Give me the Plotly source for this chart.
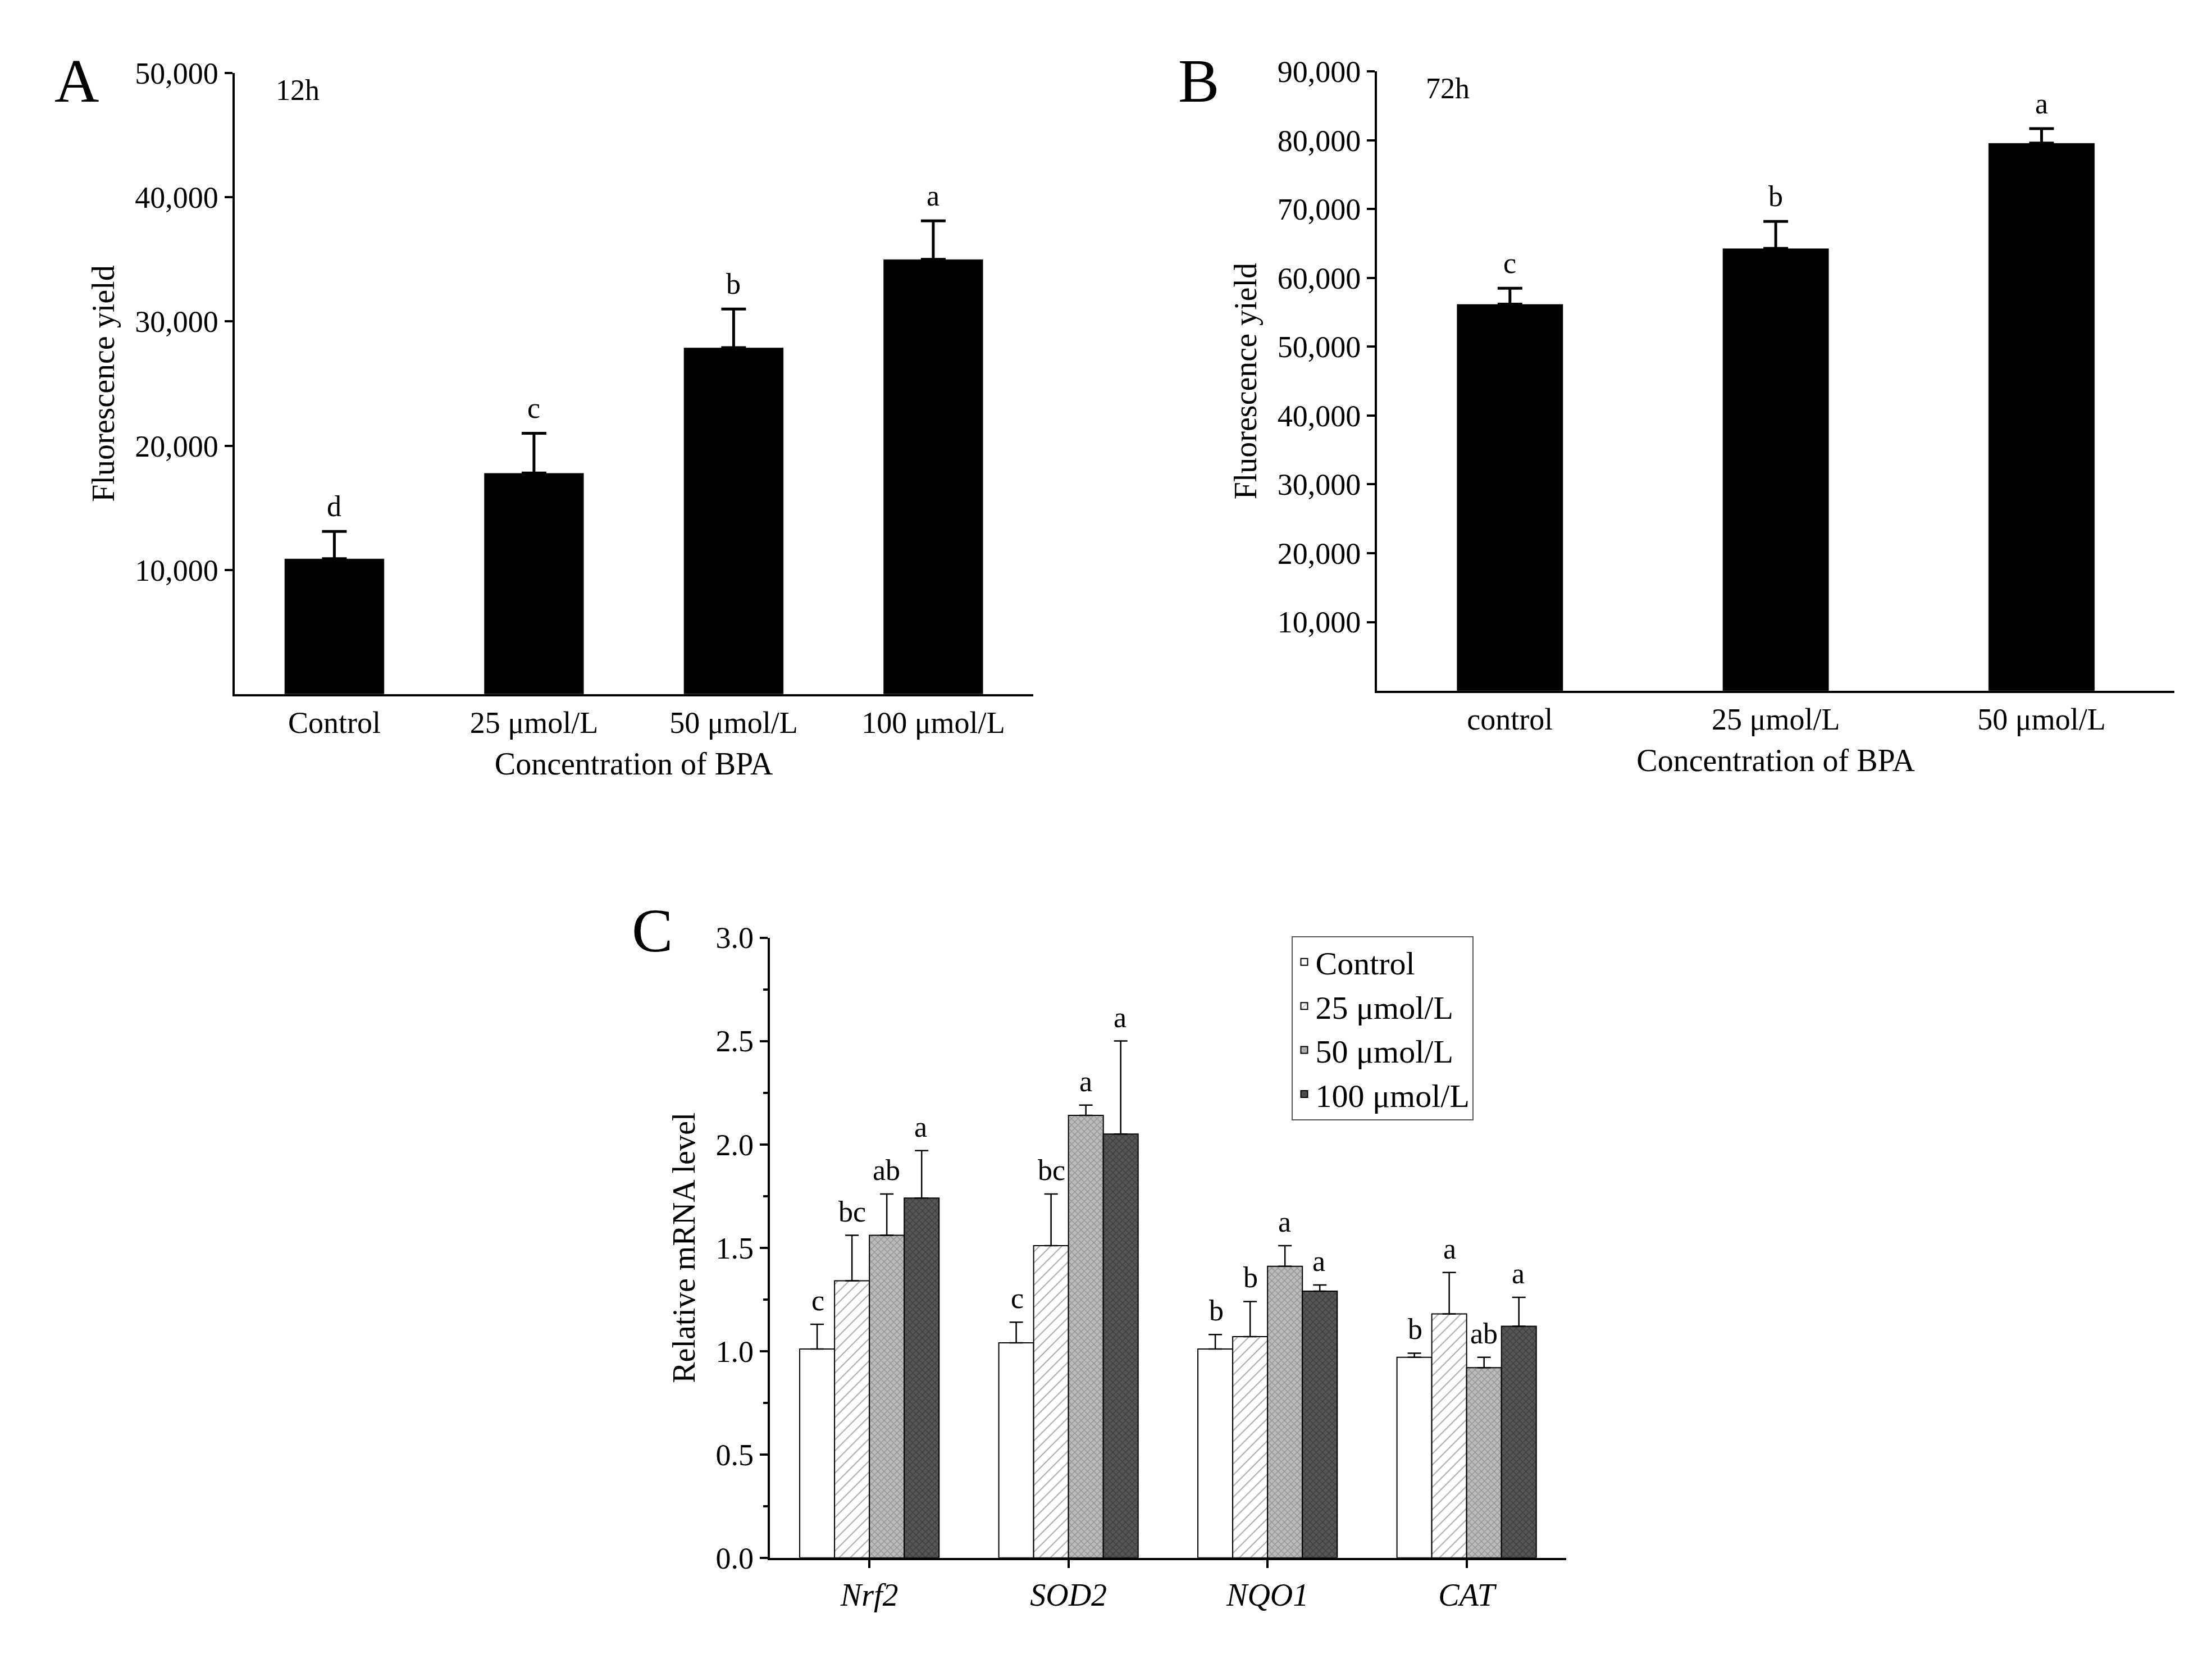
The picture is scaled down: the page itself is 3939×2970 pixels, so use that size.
import plotly.graph_objects as go

catA = ["Control", "25 μmol/L", "50 μmol/L", "100 μmol/L"]
valA = [10900, 17800, 27900, 35000]
errA = [2200, 3200, 3100, 3100]
letA = ["d", "c", "b", "a"]

catB = ["control", "25 μmol/L", "50 μmol/L"]
valB = [56200, 64300, 79600]
errB = [2300, 3900, 2100]
letB = ["c", "b", "a"]

genes = ["<i>Nrf2</i>", "<i>SOD2</i>", "<i>NQO1</i>", "<i>CAT</i>"]
series = ["Control", "25 μmol/L", "50 μmol/L", "100 μmol/L"]
valC = [[1.01, 1.04, 1.01, 0.97],
        [1.34, 1.51, 1.07, 1.18],
        [1.56, 2.14, 1.41, 0.92],
        [1.74, 2.05, 1.29, 1.12]]
errC = [[0.12, 0.10, 0.07, 0.02],
        [0.22, 0.25, 0.17, 0.20],
        [0.20, 0.05, 0.10, 0.05],
        [0.23, 0.45, 0.03, 0.14]]
letC = [["c", "c", "b", "b"],
        ["bc", "bc", "b", "a"],
        ["ab", "a", "a", "ab"],
        ["a", "a", "a", "a"]]

F = "Liberation Serif"
fig = go.Figure()
fig.add_trace(go.Bar(x=catA, y=valA, width=0.5, marker=dict(color="black"),
                     error_y=dict(type="data", array=errA, arrayminus=[0]*4, color="black", thickness=5, width=22),
                     xaxis="x", yaxis="y", showlegend=False))
fig.add_trace(go.Bar(x=catB, y=valB, width=0.4, marker=dict(color="black"),
                     error_y=dict(type="data", array=errB, arrayminus=[0]*3, color="black", thickness=5, width=22),
                     xaxis="x2", yaxis="y2", showlegend=False))
pats = [dict(shape="", bgcolor="white"),
        dict(shape="/", bgcolor="white", fgcolor="#555", size=14, solidity=0.15),
        dict(shape="x", bgcolor="#bbbbbb", fgcolor="#666", size=8, solidity=0.3),
        dict(shape="x", bgcolor="#555555", fgcolor="#222", size=8, solidity=0.3)]
for i, s in enumerate(series):
    fig.add_trace(go.Bar(x=genes, y=valC[i], name=s,
                         marker=dict(color="white", line=dict(color="black", width=2), pattern=pats[i]),
                         error_y=dict(type="data", array=errC[i], arrayminus=[0]*4, color="black", thickness=2.5, width=12),
                         xaxis="x3", yaxis="y3", offsetgroup=str(i)))

ann = []
for c, v, e, l in zip(catA, valA, errA, letA):
    ann.append(dict(x=c, y=v + e, text=l, xref="x", yref="y", showarrow=False, yanchor="bottom", yshift=14, font=dict(size=52)))
for c, v, e, l in zip(catB, valB, errB, letB):
    ann.append(dict(x=c, y=v + e, text=l, xref="x2", yref="y2", showarrow=False, yanchor="bottom", yshift=14, font=dict(size=52)))
for i in range(4):
    for j in range(4):
        ann.append(dict(x=j, y=valC[i][j] + errC[i][j], text=letC[i][j], xref="x3", yref="y3",
                        xshift=(i - 1.5) * 61, showarrow=False, yanchor="bottom", yshift=12, font=dict(size=52)))
ann += [
    dict(x=0.022, y=0.985, xref="paper", yref="paper", text="A", showarrow=False, font=dict(size=110), xanchor="left", yanchor="top"),
    dict(x=0.53, y=0.985, xref="paper", yref="paper", text="B", showarrow=False, font=dict(size=110), xanchor="left", yanchor="top"),
    dict(x=0.283, y=0.465, xref="paper", yref="paper", text="C", showarrow=False, font=dict(size=110), xanchor="left", yanchor="top"),
    dict(x=0.122, y=0.968, xref="paper", yref="paper", text="12h", showarrow=False, font=dict(size=52), xanchor="left", yanchor="top"),
    dict(x=0.642, y=0.969, xref="paper", yref="paper", text="72h", showarrow=False, font=dict(size=52), xanchor="left", yanchor="top"),
]

ax = dict(showline=True, linecolor="black", linewidth=4, showgrid=False, zeroline=False,
          tickfont=dict(size=54), ticks="outside", tickcolor="black", tickwidth=4)
fig.update_layout(
    width=3939, height=2970, margin=dict(l=0, r=0, t=0, b=0),
    paper_bgcolor="white", plot_bgcolor="white",
    font=dict(family=F, color="black"),
    barmode="group", bargap=0.3, bargroupgap=0,
    annotations=ann,
    xaxis=dict(ax, domain=[0.104, 0.465], anchor="y", ticks="", title=dict(text="Concentration of BPA", font=dict(size=56), standoff=25)),
    yaxis=dict(ax, domain=[0.588, 0.968], anchor="x", range=[0, 50000], tickvals=[10000, 20000, 30000, 40000, 50000],
               tickformat=",", ticklen=14, title=dict(text="Fluorescence yield", font=dict(size=56), standoff=20)),
    xaxis2=dict(ax, domain=[0.6205, 0.981], anchor="y2", ticks="", title=dict(text="Concentration of BPA", font=dict(size=56), standoff=25)),
    yaxis2=dict(ax, domain=[0.590, 0.969], anchor="x2", range=[0, 90000], tickvals=[10000*k for k in range(1, 10)],
                tickformat=",", ticklen=14, title=dict(text="Fluorescence yield", font=dict(size=56), standoff=20)),
    xaxis3=dict(ax, domain=[0.346, 0.706], anchor="y3", ticklen=14, tickfont=dict(size=56)),
    yaxis3=dict(ax, domain=[0.0595, 0.439], anchor="x3", range=[0, 3.0], dtick=0.5, tickformat=".1f", ticklen=14,
                minor=dict(ticks="outside", ticklen=8, tickcolor="black", dtick=0.25),
                title=dict(text="Relative mRNA level", font=dict(size=56), standoff=20)),
    legend=dict(x=0.582, y=0.44, xanchor="left", yanchor="top", bordercolor="#555", borderwidth=2,
                font=dict(size=58), itemsizing="constant", bgcolor="white", tracegroupgap=0),
)
fig.write_html("out.html")
